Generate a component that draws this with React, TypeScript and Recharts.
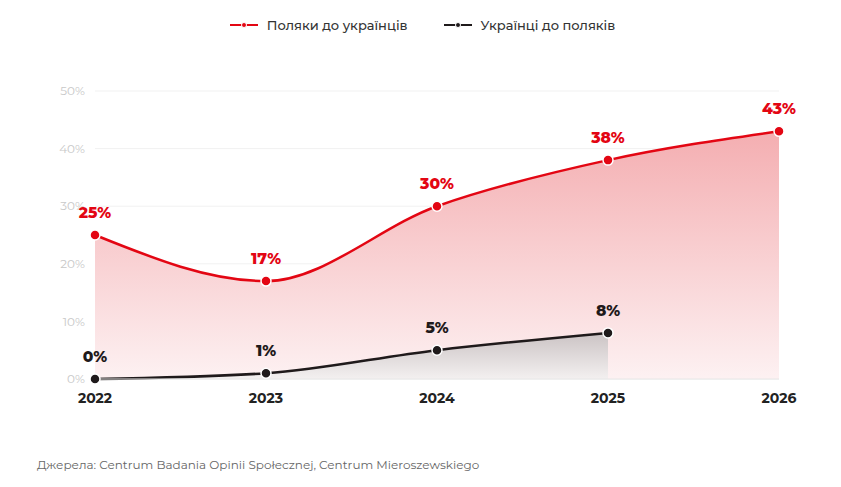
import { Area, AreaChart, CartesianGrid, LabelList, XAxis, YAxis } from "recharts";

// Data
const years = ["2022", "2023", "2024", "2025", "2026"];
const polesToUkrainians = [25, 17, 30, 38, 43];
const ukrainiansToPoles: (number | null)[] = [0, 1, 5, 8, null];
const yTicks = [0, 10, 20, 30, 40, 50];

const RED = "#e30613";
const DARK = "#1f1a1b";
const FONT = "Montserrat, Inter, 'Noto Sans', sans-serif";

const data = years.map((year, i) => ({
  year,
  poles: polesToUkrainians[i],
  ukr: ukrainiansToPoles[i],
}));

const LegendItem = ({ color, text }: { color: string; text: string }) => (
  <div style={{ display: "flex", alignItems: "center", gap: 9 }}>
    <svg width={28} height={10}>
      <line x1={0} y1={5} x2={28} y2={5} stroke={color} strokeWidth={2} />
      <circle cx={14} cy={5} r={2.5} fill={color} stroke="#fff" strokeWidth={1} />
    </svg>
    <span style={{ fontSize: 13, color: "#333", fontWeight: 500 }}>{text}</span>
  </div>
);

const App = () => {
  return (
    <div style={{ position: "fixed", left: 0, top: 0, width: 841, height: 487, background: "#fff", fontFamily: FONT }}>
      <div style={{ position: "absolute", top: 17, left: 2, width: 841, display: "flex", justifyContent: "center", gap: 36 }}>
        <LegendItem color={RED} text="Поляки до українців" />
        <LegendItem color={DARK} text="Українці до поляків" />
      </div>
      <AreaChart width={841} height={487} data={data} margin={{ top: 91, right: 62, left: 55, bottom: 78 }}>
        <defs>
          <linearGradient id="redFill" x1="0" y1="0" x2="0" y2="1">
            <stop offset="0%" stopColor="#f4aeb1" stopOpacity={1} />
            <stop offset="100%" stopColor="#fdf1f2" stopOpacity={1} />
          </linearGradient>
          <linearGradient id="darkFill" x1="0" y1="0" x2="0" y2="1">
            <stop offset="0%" stopColor="#cbc3c4" stopOpacity={1} />
            <stop offset="100%" stopColor="#f3f0f0" stopOpacity={1} />
          </linearGradient>
        </defs>
        <CartesianGrid vertical={false} stroke="#f1f1f1" />
        <XAxis
          dataKey="year"
          axisLine={{ stroke: "#e6e6e6" }}
          tickLine={false}
          height={30}
          tickMargin={8}
          tick={{ fill: "#222", fontSize: 14, fontWeight: 700, fontFamily: FONT }}
        />
        <YAxis
          width={40}
          domain={[0, 50]}
          ticks={yTicks}
          axisLine={false}
          tickLine={false}
          tickMargin={4}
          tickFormatter={(v) => `${v}%`}
          tick={{ fill: "#c8c8c8", fontSize: 12, fontFamily: FONT }}
        />
        <Area
          type="monotone"
          dataKey="poles"
          stroke={RED}
          strokeWidth={2.5}
          fill="url(#redFill)"
          fillOpacity={1}
          dot={{ r: 5, fill: RED, stroke: "#fff", strokeWidth: 1.5 }}
          activeDot={false}
          isAnimationActive={false}
        >
          <LabelList
            dataKey="poles"
            position="top"
            offset={17}
            formatter={(v: any) => `${v}%`}
            style={{ fill: RED, fontSize: 15.5, fontWeight: 800, fontFamily: FONT }}
          />
        </Area>
        <Area
          type="monotone"
          dataKey="ukr"
          stroke={DARK}
          strokeWidth={2.5}
          fill="url(#darkFill)"
          fillOpacity={1}
          dot={{ r: 5, fill: DARK, stroke: "#fff", strokeWidth: 1.5 }}
          activeDot={false}
          isAnimationActive={false}
        >
          <LabelList
            dataKey="ukr"
            position="top"
            offset={17}
            formatter={(v: any) => (v == null ? "" : `${v}%`)}
            style={{ fill: DARK, fontSize: 15.5, fontWeight: 800, fontFamily: FONT }}
          />
        </Area>
      </AreaChart>
      <div style={{ position: "absolute", left: 37, top: 457, fontSize: 12, color: "#666" }}>
        Джерела: Centrum Badania Opinii Społecznej, Centrum Mieroszewskiego
      </div>
    </div>
  );
};

export default App;
